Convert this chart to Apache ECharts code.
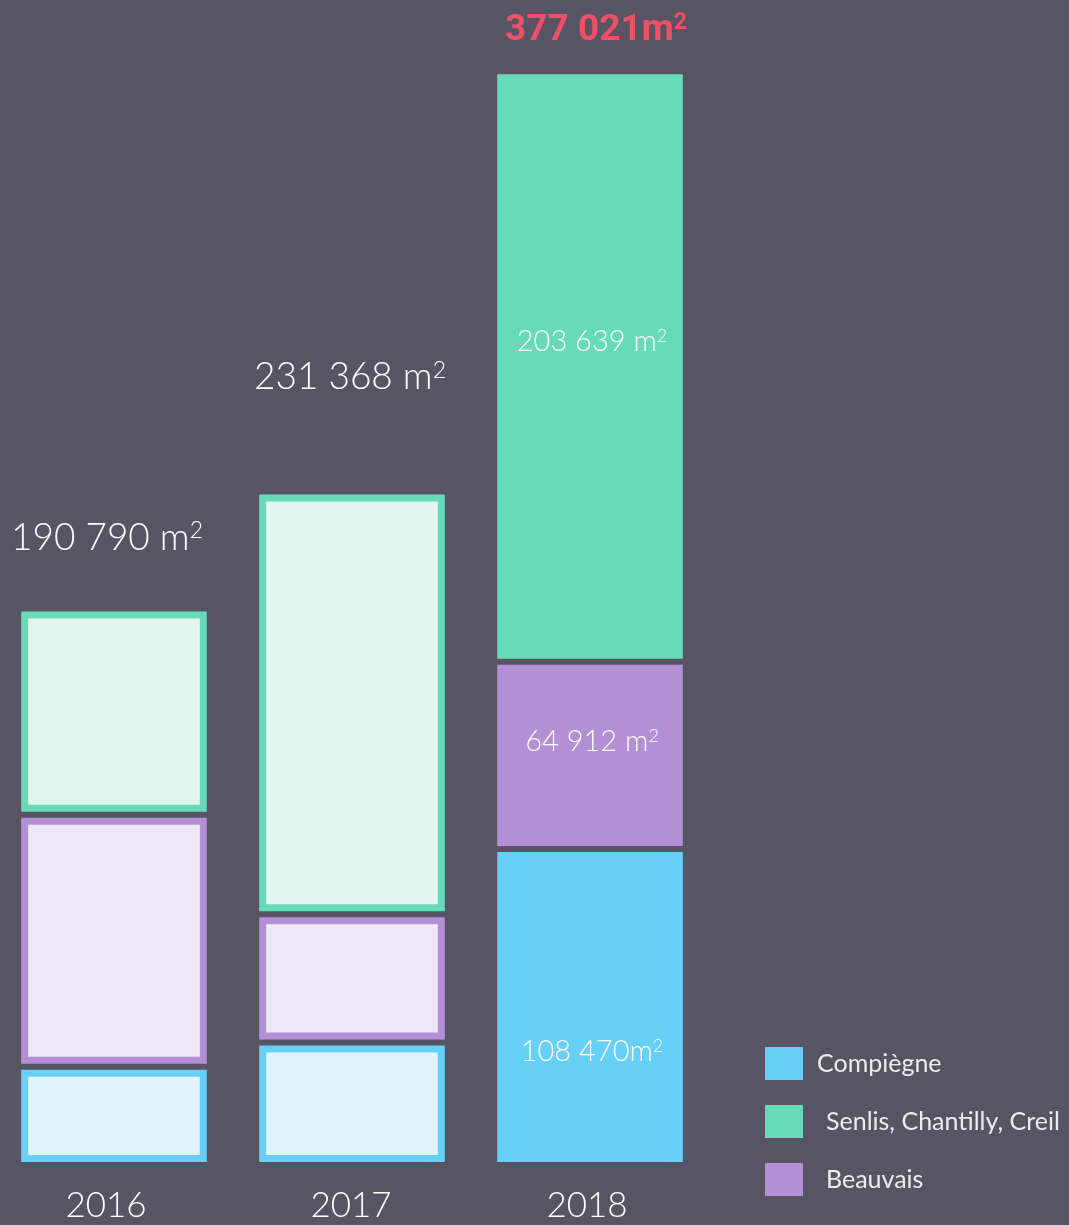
<!DOCTYPE html>
<html>
<head>
<meta charset="utf-8">
<script src="https://cdn.jsdelivr.net/npm/echarts@6/dist/echarts.min.js"></script>
<style>
  html, body { margin: 0; padding: 0; background: #575464; }
  #chart { width: 1069px; height: 1225px; }
</style>
</head>
<body>
<div id="chart"></div>
<script>
// Surfaces (m²) per year and area, stacked bottom to top: Compiègne, Beauvais, Senlis
const years = ['2016', '2017', '2018'];
const compiegne = [32990, 41378, 108470];
const beauvais = [87400, 44490, 64912];
const senlis = [70400, 145500, 203639];

// Series names, in stacking order (bottom -> top)
const areaNames = ['Compiègne', 'Beauvais', 'Senlis, Chantilly, Creil'];
const legendOrder = ['Compiègne', 'Senlis, Chantilly, Creil', 'Beauvais'];

// ---- styling ----
const BG = '#575464';
const strong = { 'Compiègne': '#67d0f6', 'Beauvais': '#b38fd6', 'Senlis, Chantilly, Creil': '#67dab8' };
const pale = { 'Compiègne': '#e1f4fc', 'Beauvais': '#efe8f7', 'Senlis, Chantilly, Creil': '#e2f6ef' };
const outlinedYear = [true, true, false];   // earlier years drawn as framed boxes
const FRAME = 7;          // frame thickness of framed boxes
const GAP = 6;            // space between stacked blocks
const BAR_RATIO = 0.78;   // bar width relative to category spacing
const FONT = 'Lato, "Open Sans", sans-serif';

// label placement tweaks (pixels)
const totalLift = [74, 117, 44];
const totalShiftX = [-7, -2, 6];
const yearPadRight = [16, 2, 6];
const totalUnit = [' m', ' m', 'm'];
const segUnit = { 'Compiègne': 'm', 'Beauvais': ' m', 'Senlis, Chantilly, Creil': ' m' };
const segLabelShift = { 'Compiègne': 45, 'Beauvais': -14, 'Senlis, Chantilly, Creil': -25 };

const values = [compiegne, beauvais, senlis];
const totals = years.map((_, i) => values.reduce((s, arr) => s + arr[i], 0));

function fmt(v) {
  return String(v).replace(/\B(?=(\d{3})+(?!\d))/g, ' ');
}

// text with a raised "2" for square metres
function areaText(v, unit, size, family, weight, color) {
  const supSize = Math.round(size * 0.62);
  return {
    text: '{v|' + fmt(v) + unit + '}{s|2}',
    rich: {
      v: { fontSize: size, fontFamily: family, fontWeight: weight, fill: color, lineHeight: size },
      s: { fontSize: supSize, fontFamily: family, fontWeight: weight, fill: color, verticalAlign: 'top', lineHeight: supSize }
    }
  };
}

// Build stacked [index, base, top] rows for each area
function stackedRows(k) {
  return years.map((_, i) => {
    let base = 0;
    for (let j = 0; j < k; j++) base += values[j][i];
    return [i, base, base + values[k][i]];
  });
}

function segmentRenderer(k) {
  const name = areaNames[k];
  const isTop = k === areaNames.length - 1;
  return function (params, api) {
    const i = api.value(0);
    const base = api.value(1);
    const top = api.value(2);
    const p0 = api.coord([i, base]);
    const p1 = api.coord([i, top]);
    const w = api.size([1, 0])[0] * BAR_RATIO;
    const x = p0[0] - w / 2;
    const yBottom = p0[1] - (base > 0 ? GAP / 2 : 0);
    const yTop = p1[1] + (isTop ? 0 : GAP / 2);
    const h = yBottom - yTop;
    const children = [];
    children.push({ type: 'rect', shape: { x: x, y: yTop, width: w, height: h }, style: { fill: strong[name] } });
    if (outlinedYear[i]) {
      children.push({
        type: 'rect',
        shape: { x: x + FRAME, y: yTop + FRAME, width: w - 2 * FRAME, height: h - 2 * FRAME },
        style: { fill: pale[name] }
      });
    } else {
      const t = areaText(top - base, segUnit[name], 29, FONT, 300, '#ffffff');
      children.push({
        type: 'text',
        style: Object.assign(t, {
          x: p0[0] + 2,
          y: (yTop + yBottom) / 2 + segLabelShift[name],
          align: 'center',
          verticalAlign: 'middle'
        })
      });
    }
    return { type: 'group', children: children };
  };
}

const series = areaNames.map((name, k) => ({
  name: name,
  type: 'custom',
  renderItem: segmentRenderer(k),
  itemStyle: { color: strong[name] },
  encode: { x: 0, y: [1, 2] },
  data: stackedRows(k)
}));

// Totals above each column
series.push({
  name: 'total',
  type: 'custom',
  encode: { x: 0, y: 1 },
  data: totals.map((t, i) => [i, t]),
  renderItem: function (params, api) {
    const i = api.value(0);
    const t = api.value(1);
    const p = api.coord([i, t]);
    const highlight = i === years.length - 1;
    const txt = highlight
      ? areaText(t, totalUnit[i], 37, 'Roboto, sans-serif', 'bold', '#ee5068')
      : areaText(t, totalUnit[i], 37, FONT, 300, '#ffffff');
    return {
      type: 'text',
      style: Object.assign(txt, {
        x: p[0] + totalShiftX[i],
        y: p[1] - totalLift[i],
        align: 'center',
        verticalAlign: 'middle'
      })
    };
  }
});

const yearRich = {};
yearPadRight.forEach((pad, i) => {
  yearRich['y' + i] = { color: '#ffffff', fontSize: 35, fontWeight: 300, fontFamily: FONT, padding: [0, pad, 0, 0] };
});

const chart = echarts.init(document.getElementById('chart'), null, { renderer: 'canvas' });
chart.setOption({
  backgroundColor: BG,
  animation: false,
  grid: { left: 114, right: 479, top: 8, bottom: 63 },
  xAxis: {
    type: 'category',
    boundaryGap: false,
    data: years,
    axisLine: { show: false },
    axisTick: { show: false },
    axisLabel: {
      color: '#ffffff', fontSize: 35, fontWeight: 300, fontFamily: FONT, margin: 26,
      formatter: (v, i) => '{y' + i + '|' + v + '}',
      rich: yearRich
    }
  },
  yAxis: { type: 'value', min: 0, max: 400000, show: false },
  legend: {
    orient: 'vertical',
    left: 760,
    top: 1042,
    icon: 'rect',
    itemWidth: 38,
    itemHeight: 33,
    itemGap: 25,
    selectedMode: false,
    textStyle: { color: '#ececec', fontSize: 25, fontFamily: FONT },
    data: [
      { name: legendOrder[0], textStyle: { padding: [0, 0, 0, 9] } },
      { name: legendOrder[1], textStyle: { padding: [0, 0, 0, 18] } },
      { name: legendOrder[2], textStyle: { padding: [0, 0, 0, 18] } }
    ]
  },
  series: series
});
</script>
</body>
</html>
